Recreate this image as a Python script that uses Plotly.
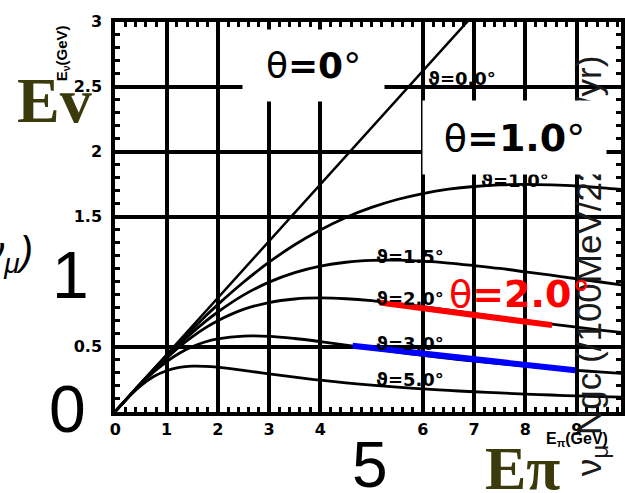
import plotly.graph_objects as go

# Pion energy (GeV) sampled along each curve
e_pi = [0, 0.25, 0.5, 0.75, 1, 1.25, 1.5, 1.75, 2, 2.5, 3, 3.5, 4, 4.5, 5,
        5.5, 6, 6.5, 7, 7.5, 8, 8.5, 9, 9.5, 10]

# Neutrino energy (GeV) for each off-axis angle
e_nu_0 = [0, 4.37]
e_pi_0 = [0, 10]
e_nu_1_0 = [0, 0.109, 0.218, 0.325, 0.430, 0.533, 0.633, 0.730, 0.823, 0.995, 1.149,
            1.284, 1.398, 1.494, 1.571, 1.632, 1.678, 1.711, 1.732, 1.744, 1.748,
            1.744, 1.736, 1.722, 1.705]
e_nu_1_5 = [0, 0.109, 0.217, 0.321, 0.422, 0.518, 0.607, 0.690, 0.766, 0.896, 0.996,
            1.069, 1.119, 1.149, 1.163, 1.165, 1.157, 1.143, 1.123, 1.101, 1.075,
            1.049, 1.022, 0.995, 0.968]
e_nu_2_0 = [0, 0.109, 0.215, 0.317, 0.411, 0.498, 0.575, 0.642, 0.699, 0.786, 0.839,
            0.866, 0.874, 0.868, 0.853, 0.831, 0.807, 0.780, 0.753, 0.726, 0.699,
            0.673, 0.649, 0.625, 0.603]
e_nu_3_0 = [0, 0.108, 0.211, 0.304, 0.383, 0.448, 0.498, 0.535, 0.559, 0.581, 0.579,
            0.562, 0.538, 0.511, 0.484, 0.457, 0.432, 0.409, 0.388, 0.368, 0.350,
            0.333, 0.317, 0.303, 0.290]
e_nu_5_0 = [0, 0.107, 0.199, 0.269, 0.314, 0.339, 0.349, 0.348, 0.341, 0.317, 0.290,
            0.264, 0.241, 0.221, 0.203, 0.188, 0.174, 0.162, 0.152, 0.143, 0.134,
            0.127, 0.120, 0.115, 0.109]

curve_labels = ["ϑ=0.0°", "ϑ=1.0°", "ϑ=1.5°", "ϑ=2.0°", "ϑ=3.0°", "ϑ=5.0°"]
label_x = [6.77, 7.79, 5.74, 5.74, 5.74, 5.74]
label_y = [2.56, 1.78, 1.19, 0.87, 0.52, 0.25]

# Highlight segments
red_x = [5.16, 8.52]
red_y = [0.838, 0.665]
blue_x = [4.63, 8.97]
blue_y = [0.506, 0.317]

x_tickvals = [0, 1, 2, 3, 4, 6, 7, 8, 9]
x_ticktext = ["0", "1", "2", "3", "4", "6", "7", "8", "9"]
y_tickvals = [0.5, 1.5, 2, 2.5, 3]
y_ticktext = ["0.5", "1.5", "2", "2.5", "3"]

W, H = 625, 493


def px(x):
    return x / W


def py(y):
    return 1 - y / H


fig = go.Figure()

fig.add_trace(go.Scatter(x=e_pi_0, y=e_nu_0, mode="lines",
                         line=dict(color="black", width=2.5)))
for ys in [e_nu_1_0, e_nu_1_5, e_nu_2_0, e_nu_3_0, e_nu_5_0]:
    fig.add_trace(go.Scatter(x=e_pi, y=ys, mode="lines",
                             line=dict(color="black", width=2.8, shape="spline")))

fig.add_trace(go.Scatter(x=red_x, y=red_y, mode="lines",
                         line=dict(color="#ff0000", width=6)))
fig.add_trace(go.Scatter(x=blue_x, y=blue_y, mode="lines",
                         line=dict(color="#0000ff", width=6)))

annotations = []
for t, lx, ly in zip(curve_labels, label_x, label_y):
    annotations.append(dict(x=lx, y=ly, xref="x", yref="y", text="<b>" + t + "</b>",
                            showarrow=False, xanchor="center", yanchor="middle",
                            font=dict(family="DejaVu Sans", size=18, color="black")))

olive = "#3b3a0c"
# Rotated axis caption on the right, partly hidden by the θ=1.0° box
annotations.append(dict(x=px(594), y=py(478), xref="paper", yref="paper",
                        text="ν<sub>μ</sub> Ngc (/100MeV/22.5kt/yr)", textangle=-90,
                        showarrow=False, xanchor="center", yanchor="bottom",
                        font=dict(family="Liberation Sans", size=35, color="#1a1a1a")))

annotations += [
    dict(x=px(312.5), y=py(57.5), text="θ<b>=0</b>°", width=141, height=71,
         bgcolor="white", borderpad=0,
         font=dict(family="DejaVu Sans", size=36, color="black")),
    dict(x=px(516.5), y=py(130.5), text="θ<b>=1.0</b>°", width=183, height=73,
         bgcolor="white", borderpad=0,
         font=dict(family="DejaVu Sans", size=38, color="black")),
    dict(x=px(522), y=py(290), text="θ<b>=2.0</b>°",
         font=dict(family="DejaVu Sans", size=38, color="#ff0000")),
    dict(x=px(49), y=py(93), text="<b>Ev</b>",
         font=dict(family="Liberation Serif", size=64, color=olive)),
    dict(x=px(525), y=py(468), text="<b>Eπ</b>",
         font=dict(family="Liberation Serif", size=62, color=olive)),
    dict(x=px(66), y=py(271), text="1",
         font=dict(family="Liberation Sans", size=66, color="black")),
    dict(x=px(62), y=py(407), text="0",
         font=dict(family="Liberation Sans", size=66, color="black")),
    dict(x=px(370), y=py(464), text="5",
         font=dict(family="Liberation Sans", size=64, color="black")),
    dict(x=px(57), y=py(45), text="<b>E<sub>ν</sub>(GeV)</b>", textangle=-90,
         font=dict(family="Liberation Sans", size=15, color="black")),
    dict(x=px(547), y=py(439), text="<b>E<sub>π</sub>(GeV)</b>", xanchor="left",
         font=dict(family="Liberation Sans", size=16, color="black")),
    dict(x=px(29), y=py(250), text="<i>(ν<sub>μ</sub>)</i>", xanchor="right",
         font=dict(family="Liberation Sans", size=40, color="black")),
]
for a in annotations:
    a.setdefault("xref", "paper")
    a.setdefault("yref", "paper")
    a.setdefault("showarrow", False)
    a.setdefault("xanchor", "center")
    a.setdefault("yanchor", "middle")

tickfont = dict(family="DejaVu Sans", size=16, color="black", weight="bold")

fig.update_layout(
    width=W, height=H,
    margin=dict(l=0, r=0, t=0, b=0),
    paper_bgcolor="white", plot_bgcolor="white",
    showlegend=False,
    annotations=annotations,
    xaxis=dict(domain=[111 / W, 1], range=[0, (W - 111) / 52.11],
               tickvals=x_tickvals, ticktext=x_ticktext, tickfont=tickfont,
               showgrid=True, gridcolor="black", gridwidth=3.5, zeroline=False,
               showline=True, linecolor="black", linewidth=4, mirror="allticks",
               ticks="inside", ticklen=5, tickwidth=3, tickcolor="black",
               minor=dict(dtick=0.2, ticks="inside", ticklen=5, tickwidth=2.5,
                          tickcolor="black", showgrid=False)),
    yaxis=dict(domain=[83 / H, 480 / H], range=[0, 3],
               tickvals=y_tickvals, ticktext=y_ticktext, tickfont=tickfont,
               ticklabelstandoff=6,
               showgrid=True, gridcolor="black", gridwidth=3.5, zeroline=False,
               showline=True, linecolor="black", linewidth=4, mirror="allticks",
               ticks="inside", ticklen=5, tickwidth=3, tickcolor="black",
               minor=dict(dtick=0.1, ticks="inside", ticklen=5, tickwidth=2.5,
                          tickcolor="black", showgrid=False)),
)

fig.write_html("out.html")
